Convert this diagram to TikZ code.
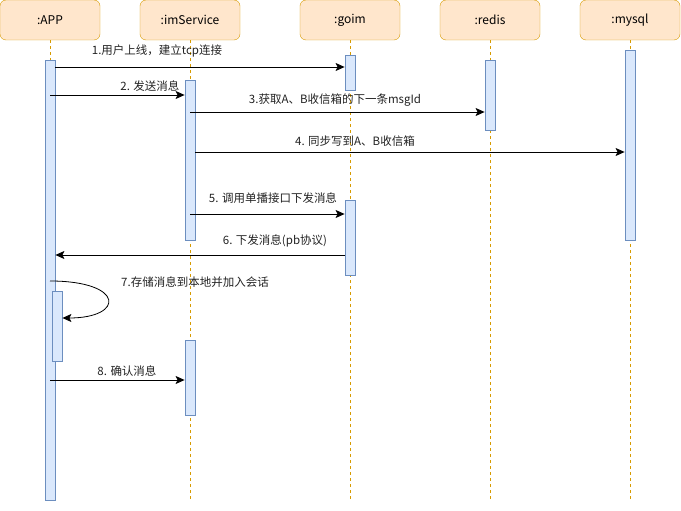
\documentclass[tikz,border=0pt]{standalone}
\usepackage{fontspec}
\setmainfont{Noto Sans CJK SC}
\usetikzlibrary{arrows.meta,positioning,calc}
\definecolor{headFill}{HTML}{FFE6CC}
\definecolor{headLine}{HTML}{D79B00}
\definecolor{actFill}{HTML}{DAE8FC}
\definecolor{actLine}{HTML}{6C8EBF}
\definecolor{msgText}{HTML}{222222}

\begin{document}
\begin{tikzpicture}[x=1pt,y=-1pt,font=\fontsize{11.5}{13}\selectfont,
  head/.style={draw=headLine,fill=headFill,rounded corners=6pt,minimum width=100pt,minimum height=40pt,inner sep=0pt,font=\fontsize{12}{14}\selectfont},
  life/.style={draw=headLine,dash pattern=on 3pt off 3pt,line width=0.8pt},
  act/.style={draw=actLine,fill=actFill,minimum width=10pt,inner sep=0pt,line width=0.8pt},
  msg/.style={-{Stealth[length=9pt,width=8pt,inset=2pt]},line width=0.8pt},
  lbl/.style={text=msgText,inner sep=1pt}]
\useasboundingbox (0,0) rectangle (681,511);
% participants and lifelines
\foreach \n/\x/\t in {app/50/:APP,ims/190/:imService,goim/350/:goim,redis/490/:redis,mysql/630/:mysql} {
 \node[head] (\n) at (\x,20) {\t};
 \draw[life] (\n.south) -- (\n |- 0,500);
}
% activations
\node[act,minimum height=440pt] (appA) at (50,280) {};
\node[act,minimum height=70pt] (appB) at (57,326) {};
\node[act,minimum height=160pt] (imsA) at (190,160) {};
\node[act,minimum height=75pt] (imsB) at (190,377.5) {};
\node[act,minimum height=35pt] (goimA) at (350,72.5) {};
\node[act,minimum height=75pt] (goimB) at (350,237.5) {};
\node[act,minimum height=70pt] (redisA) at (490,95) {};
\node[act,minimum height=190pt] (mysqlA) at (630,145) {};
% messages
\draw[msg] (appA.east |- 0,67) -- (goimA.west |- 0,67);
\node[lbl] (l1) at (157,51) {1.用户上线，建立tcp连接};
\draw[msg] (appA |- 0,95) -- (imsA.west |- 0,95);
\node[lbl] (l2) at (150,86) {2. 发送消息};
\draw[msg] (imsA |- 0,112) -- (redisA.west |- 0,112);
\node[lbl] (l3) at (335,100) {3.获取A、B收信箱的下一条msgId};
\draw[msg] (imsA.east |- 0,152) -- (mysqlA.west |- 0,152);
\node[lbl] (l4) at (355,141) {4. 同步写到A、B收信箱};
\draw[msg] (imsA |- 0,214) -- (goimB.west |- 0,214);
\node[lbl] (l5) at (273,198) {5. 调用单播接口下发消息};
\draw[msg] (goimB.west |- 0,255) -- (appA.east |- 0,255);
\node[lbl] (l6) at (275,241) {6. 下发消息(pb协议)};
\draw[msg] (appA |- 0,281) .. controls (125,281) and (125,318) .. (appB.east |- 0,318);
\node[lbl] (l7) at (195,282) {7.存储消息到本地并加入会话};
\draw[msg] (appA |- 0,380) -- (imsB.west |- 0,380);
\node[lbl] (l8) at (127,371) {8. 确认消息};
\end{tikzpicture}
\end{document}
